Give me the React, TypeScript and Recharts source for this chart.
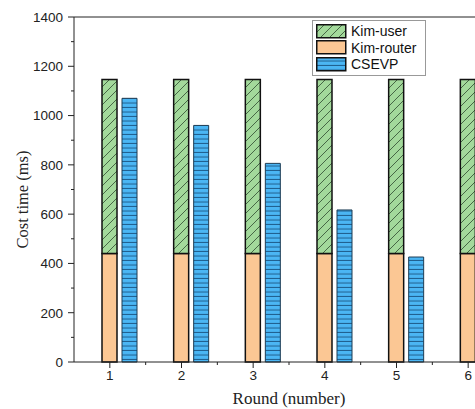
import { BarChart, Bar, XAxis, YAxis, Legend, Label, ReferenceLine } from "recharts";

const rounds = ["1", "2", "3", "4", "5", "6"];
const kimRouter = [440, 440, 440, 440, 440, 440];
const kimUser = [706, 706, 706, 706, 706, 706];
const csevp = [1070, 960, 806, 617, 426, 235];
const yTicks = [0, 100, 200, 300, 400, 500, 600, 700, 800, 900, 1000, 1100, 1200, 1300, 1400];

const data = rounds.map((round, i) => ({
  round,
  router: kimRouter[i],
  user: kimUser[i],
  csevp: csevp[i],
}));

const legendItems = [
  { name: "Kim-user", fill: "url(#hatchUser)" },
  { name: "Kim-router", fill: "#fbc794" },
  { name: "CSEVP", fill: "url(#linesCsevp)" },
];

const BAND = 430 / 6;

function YTick(props: any) {
  const { x, y, payload } = props;
  const axisX = x + 10;
  const major = payload.value % 200 === 0;
  return (
    <g>
      <line x1={axisX - (major ? 6 : 3)} x2={axisX} y1={y} y2={y} stroke="#222" strokeWidth={1} />
      {major && (
        <text x={x - 1} y={y} dy="0.36em" textAnchor="end" fontFamily="Liberation Sans, Arial" fontSize={13.5} fill="#222">
          {payload.value}
        </text>
      )}
    </g>
  );
}

function XTick(props: any) {
  const { x, y, payload } = props;
  const axisY = y - 8;
  return (
    <g>
      <line x1={x} x2={x} y1={axisY} y2={axisY + 6} stroke="#222" strokeWidth={1} />
      <line x1={x + BAND / 2} x2={x + BAND / 2} y1={axisY} y2={axisY + 3} stroke="#222" strokeWidth={1} />
      <text x={x} y={y} dy="0.75em" textAnchor="middle" fontFamily="Liberation Sans, Arial" fontSize={13.5} fill="#222">
        {payload.value}
      </text>
    </g>
  );
}

function LegendBox() {
  return (
    <div style={{ width: 112, height: 52, border: "1px solid #999", background: "#fff", boxSizing: "content-box", paddingTop: 2 }}>
      {legendItems.map((item) => (
        <div key={item.name} style={{ display: "flex", alignItems: "center", height: 16.5, paddingLeft: 3 }}>
          <svg width={31} height={15} style={{ display: "block" }}>
            <rect x={0.75} y={0.75} width={29} height={13} fill={item.fill} stroke="#111" strokeWidth={1.5} />
          </svg>
          <span style={{ marginLeft: 4, fontFamily: "Liberation Sans, Arial", fontSize: 14, color: "#111", lineHeight: "16px" }}>
            {item.name}
          </span>
        </div>
      ))}
    </div>
  );
}

export default function App() {
  return (
    <div style={{ position: "fixed", left: 0, top: 0, width: 475, height: 409, overflow: "hidden", background: "#fff" }}>
      <BarChart
        width={520}
        height={409}
        data={data}
        margin={{ top: 17, right: 16, bottom: 0, left: 14 }}
        barSize={15}
        barGap={5}
      >
        <defs>
          <pattern id="hatchUser" patternUnits="userSpaceOnUse" width={9} height={9}>
            <rect width={9} height={9} fill="#a3d99b" />
            <path d="M0,9 L9,0 M-1,1 L1,-1 M8,10 L10,8" stroke="#2e4a2e" strokeWidth={0.8} />
          </pattern>
          <pattern id="linesCsevp" patternUnits="userSpaceOnUse" width={4} height={4.5}>
            <rect width={4} height={4.5} fill="#4bb6f4" />
            <line x1={0} x2={4} y1={4} y2={4} stroke="#1f5d8c" strokeWidth={1} />
          </pattern>
        </defs>
        <XAxis
          dataKey="round"
          height={47}
          tickSize={6}
          tickMargin={2}
          tickLine={false}
          axisLine={{ stroke: "#222" }}
          tick={<XTick />}
          interval={0}
        >
          <Label
            content={({ viewBox }: any) => (
              <text
                x={viewBox.x + viewBox.width / 2}
                y={404}
                textAnchor="middle"
                fontFamily="Liberation Serif, Times New Roman"
                fontSize={17}
                fill="#222"
              >
                Round (number)
              </text>
            )}
          />
        </XAxis>
        <YAxis
          width={60}
          domain={[0, 1400]}
          ticks={yTicks}
          interval={0}
          tickSize={6}
          tickMargin={4}
          tickLine={false}
          axisLine={{ stroke: "#222" }}
          tick={<YTick />}
        >
          <Label
            content={({ viewBox }: any) => (
              <text
                x={22}
                y={viewBox.y + viewBox.height / 2 + 10}
                transform={`rotate(-90, 22, ${viewBox.y + viewBox.height / 2 + 10})`}
                textAnchor="middle"
                dy="0.35em"
                fontFamily="Liberation Serif, Times New Roman"
                fontSize={16.5}
                fill="#222"
              >
                Cost time (ms)
              </text>
            )}
          />
        </YAxis>
        <ReferenceLine y={1400} stroke="#222" strokeWidth={1} />
        <Legend
          content={() => <LegendBox />}
          layout="vertical"
          align="center"
          verticalAlign="middle"
          wrapperStyle={{ top: 20, left: 312, width: 114 }}
        />
        <Bar dataKey="spacer" stackId="a" legendType="none" isAnimationActive={false} />
        <Bar dataKey="router" name="Kim-router" stackId="b" fill="#fbc794" stroke="#111" strokeWidth={1.5} isAnimationActive={false} />
        <Bar dataKey="user" name="Kim-user" stackId="b" fill="url(#hatchUser)" stroke="#111" strokeWidth={1.5} isAnimationActive={false} />
        <Bar dataKey="csevp" name="CSEVP" stackId="c" fill="url(#linesCsevp)" stroke="#1d3d55" strokeWidth={1} isAnimationActive={false} />
      </BarChart>
    </div>
  );
}
